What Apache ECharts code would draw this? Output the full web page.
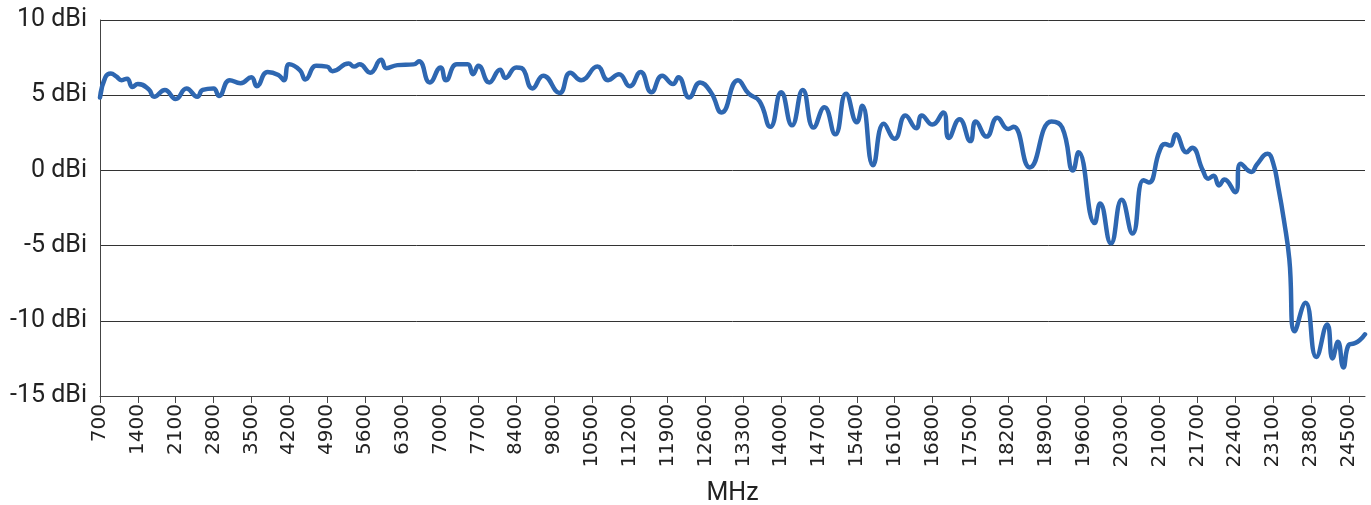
<!DOCTYPE html>
<html>
<head>
<meta charset="utf-8">
<script src="https://cdn.jsdelivr.net/npm/echarts@6/dist/echarts.min.js"></script>
<style>
  html, body { margin: 0; padding: 0; background: #fff; }
  #chart { width: 1371px; height: 505px; }
</style>
</head>
<body>
<div id="chart"></div>
<script>
// frequency categories (MHz), a label is shown on every 7th one
const categories = [
  700, 800, 900, 1000, 1100, 1200, 1300, 1400, 1500, 1600, 1700, 1800, 1900, 2000,
  2100, 2200, 2300, 2400, 2500, 2600, 2700, 2800, 2900, 3000, 3100, 3200, 3300, 3400,
  3500, 3600, 3700, 3800, 3900, 4000, 4100, 4200, 4300, 4400, 4500, 4600, 4700, 4800,
  4900, 5000, 5100, 5200, 5300, 5400, 5500, 5600, 5700, 5800, 5900, 6000, 6100, 6200,
  6300, 6400, 6500, 6600, 6700, 6800, 6900, 7000, 7100, 7200, 7300, 7400, 7500, 7600,
  7700, 7800, 7900, 8000, 8100, 8200, 8300, 8400, 8600, 8800, 9000, 9200, 9400, 9600,
  9800, 9900, 10000, 10100, 10200, 10300, 10400, 10500, 10600, 10700, 10800, 10900, 11000, 11100,
  11200, 11300, 11400, 11500, 11600, 11700, 11800, 11900, 12000, 12100, 12200, 12300, 12400, 12500,
  12600, 12700, 12800, 12900, 13000, 13100, 13200, 13300, 13400, 13500, 13600, 13700, 13800, 13900,
  14000, 14100, 14200, 14300, 14400, 14500, 14600, 14700, 14800, 14900, 15000, 15100, 15200, 15300,
  15400, 15500, 15600, 15700, 15800, 15900, 16000, 16100, 16200, 16300, 16400, 16500, 16600, 16700,
  16800, 16900, 17000, 17100, 17200, 17300, 17400, 17500, 17600, 17700, 17800, 17900, 18000, 18100,
  18200, 18300, 18400, 18500, 18600, 18700, 18800, 18900, 19000, 19100, 19200, 19300, 19400, 19500,
  19600, 19700, 19800, 19900, 20000, 20100, 20200, 20300, 20400, 20500, 20600, 20700, 20800, 20900,
  21000, 21100, 21200, 21300, 21400, 21500, 21600, 21700, 21800, 21900, 22000, 22100, 22200, 22300,
  22400, 22500, 22600, 22700, 22800, 22900, 23000, 23100, 23200, 23300, 23400, 23500, 23600, 23700,
  23800, 23900, 24000, 24100, 24200, 24300, 24400, 24500, 24600, 24700, 24800
];

// gain readings (dBi) at the frequencies where the curve turns
const sampleMhz = [
  700, 800, 900, 1000, 1100, 1200, 1300, 1400, 1600, 1700, 1900, 2100, 2300, 2500, 2600, 2800, 2900,
  3100, 3300, 3500, 3600, 3800, 4000, 4100, 4200, 4400, 4500, 4700, 4900, 5000, 5300, 5400, 5500,
  5700, 5900, 6000, 6200, 6500, 6600, 6800, 7000, 7100, 7300, 7500, 7600, 7700, 7900, 8100, 8200,
  8400, 8600, 9000, 9400, 9900, 10100, 10300, 10600, 10800, 11000, 11200, 11400, 11600, 11800,
  12000, 12100, 12300, 12500, 12700, 12900, 13200, 13400, 13600, 13800, 14000, 14200, 14400, 14600,
  14800, 15000, 15200, 15400, 15500, 15700, 15900, 16100, 16300, 16500, 16600, 16800, 17000, 17100,
  17300, 17500, 17600, 17800, 18000, 18200, 18300, 18600, 19000, 19200, 19400, 19500, 19800, 19900,
  20100, 20300, 20500, 20700, 20800, 21000, 21100, 21200, 21300, 21500, 21600, 21800, 21900, 22000,
  22100, 22200, 22400, 22500, 22700, 22800, 23000, 23100, 23200, 23300, 23400, 23500, 23700,
  23900, 24100, 24200, 24300, 24400, 24500, 24600, 24700, 24800
];
const gainDbi = [
  4.85, 6.2, 6.45, 6.25, 6.0, 6.1, 5.55, 5.75, 5.4, 4.9, 5.35, 4.75, 5.45, 4.9, 5.35, 5.45, 4.95,
  6.0, 5.8, 6.2, 5.6, 6.55, 6.35, 6.0, 7.05, 6.65, 6.05, 6.95, 6.9, 6.6, 7.1, 6.9, 7.05,
  6.5, 7.35, 6.8, 7.0, 7.05, 7.25, 5.85, 6.85, 6.0, 7.05, 7.05, 6.4, 6.95, 5.85, 6.7, 6.15,
  6.85, 6.8, 5.45, 6.3, 5.15, 6.5, 6.0, 6.9, 6.0, 6.4, 5.6, 6.55, 5.2, 6.3,
  5.75, 6.2, 4.85, 5.85, 5.2, 3.85, 6.0, 5.1, 4.6, 2.9, 5.2, 3.0, 5.35, 2.85,
  4.2, 2.4, 5.1, 3.2, 4.3, 0.35, 3.1, 2.1, 3.65, 2.8, 3.65, 3.05, 3.85, 2.15,
  3.4, 1.95, 3.25, 2.25, 3.5, 2.75, 2.9, 0.2, 3.25, 2.85, 0.0, 1.2, -3.5, -2.2,
  -4.85, -1.95, -4.2, -0.65, -0.8, 1.3, 1.75, 1.65, 2.4, 1.2, 1.5, 0.0, -0.55, -0.35,
  -1.0, -0.6, -1.45, 0.45, -0.1, 0.4, 1.1, 0.5, -1.2, -3.3, -5.9, -10.7, -8.8,
  -12.4, -10.25, -12.5, -11.4, -13.1, -11.6, -11.5, -11.3, -10.9
];

const yMin = -15;
const yMax = 10;
const yStep = 5;
const labelEvery = 7;

const chart = echarts.init(document.getElementById('chart'));
chart.setOption({
  animation: false,
  grid: { left: 100, right: 6, top: 20, bottom: 109, outerBoundsMode: 'none' },
  xAxis: {
    type: 'category',
    boundaryGap: false,
    data: categories.map(String),
    name: 'MHz',
    nameLocation: 'middle',
    nameGap: 85,
    nameTextStyle: { fontFamily: 'Roboto', fontSize: 25, color: '#222' },
    axisLine: { onZero: false, lineStyle: { color: '#444', width: 1 } },
    axisTick: { length: 7, interval: labelEvery - 1, lineStyle: { color: '#444' } },
    axisLabel: {
      interval: labelEvery - 1,
      rotate: 90,
      margin: 8,
      fontFamily: '"DejaVu Sans"',
      fontSize: 20,
      color: '#222'
    },
    splitLine: { show: false }
  },
  yAxis: {
    type: 'value',
    min: yMin,
    max: yMax,
    interval: yStep,
    axisLine: { show: true, lineStyle: { color: '#444', width: 1 } },
    axisTick: { show: false },
    axisLabel: {
      formatter: '{value} dBi',
      margin: 13,
      fontFamily: 'Roboto',
      fontSize: 25,
      color: '#222'
    },
    splitLine: { lineStyle: { color: '#333', width: 1 } }
  },
  series: [{
    type: 'line',
    data: sampleMhz.map((f, k) => [String(f), gainDbi[k]]),
    smooth: 0.5,
    showSymbol: false,
    lineStyle: { color: '#2e67b1', width: 4.5, cap: 'round', join: 'round' }
  }]
});
</script>
</body>
</html>
